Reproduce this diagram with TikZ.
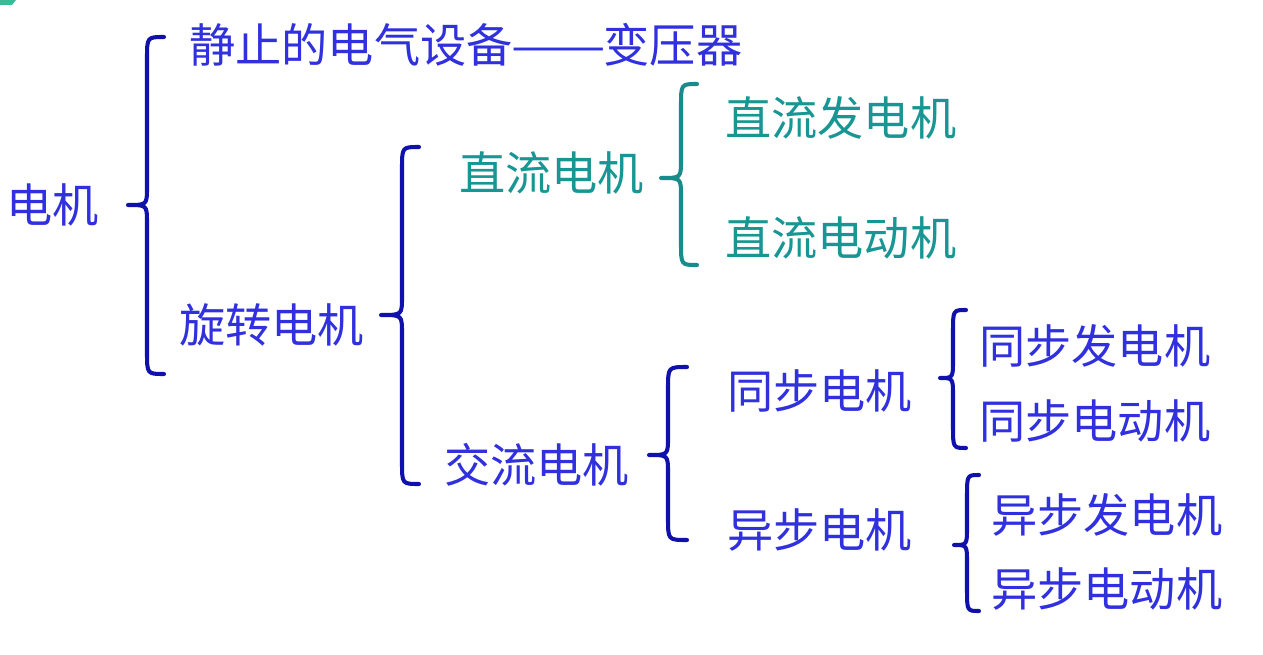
\documentclass[tikz,border=0pt]{standalone}
\usepackage{fontspec}
\newfontfamily\cjk{Noto Sans CJK SC}
\definecolor{txtblue}{RGB}{48,48,222}
\definecolor{brblue}{RGB}{16,16,170}
\definecolor{txtteal}{RGB}{24,150,148}
\definecolor{brteal}{RGB}{24,140,138}
\definecolor{cornerteal}{RGB}{60,185,150}
\tikzset{
  lbl/.style={inner sep=0pt, anchor=west, font=\cjk\fontsize{26.3}{30}\selectfont},
  blue lbl/.style={lbl, text=txtblue},
  teal lbl/.style={lbl, text=txtteal},
  bracestroke/.style={line width=2.3pt, line cap=round, line join=round},
}
% \mybrace{color}{xl}{xm}{xr}{ytop}{ymid}{ybot}
\newcommand\mybrace[7]{%
  \draw[bracestroke, draw=#1]
    (#4,#5) .. controls (#3,#5) .. (#3,#5+22)
    -- (#3,#6-18) .. controls (#3,#6) .. (#2,#6)
    .. controls (#3,#6) .. (#3,#6+18)
    -- (#3,#7-22) .. controls (#3,#7) .. (#4,#7);}
\begin{document}
\begin{tikzpicture}[x=0.02cm, y=-0.02cm]
\useasboundingbox (0,0) rectangle (1263,655);
\fill[cornerteal] (0,0) -- (16,0) -- (12,5) -- (0,5) -- cycle;

\node[blue lbl] (dianji) at (6,205) {电机};
\node[blue lbl] (jingzhi) at (189,45) {静止的电气设备\kern-1pt\scalebox{1.22}[1]{——}\kern-1pt变压器};
\node[blue lbl] (xuanzhuan) at (179,325) {旋转电机};
\node[teal lbl] (zhiliu) at (459,173) {直流电机};
\node[teal lbl] (zlfd) at (725,118) {直流发电机};
\node[teal lbl] (zldd) at (725,238) {直流电动机};
\node[blue lbl] (jiaoliu) at (444,465) {交流电机};
\node[blue lbl] (tongbu) at (727,391) {同步电机};
\node[blue lbl] (yibu) at (727,530) {异步电机};
\node[blue lbl] (tbfd) at (979,346) {同步发电机};
\node[blue lbl] (tbdd) at (979,421) {同步电动机};
\node[blue lbl] (ybfd) at (991,515) {异步发电机};
\node[blue lbl] (ybdd) at (991,589) {异步电动机};

\mybrace{brblue}{128}{147}{164}{37}{205}{374}
\mybrace{brblue}{381}{402}{419}{147}{315}{484}
\mybrace{brteal}{661}{681}{697}{84}{178}{265}
\mybrace{brblue}{649}{668}{687}{367}{455}{540}
\mybrace{brblue}{940}{953}{966}{310}{378}{448}
\mybrace{brblue}{954}{967}{979}{475}{545}{611}
\end{tikzpicture}
\end{document}
